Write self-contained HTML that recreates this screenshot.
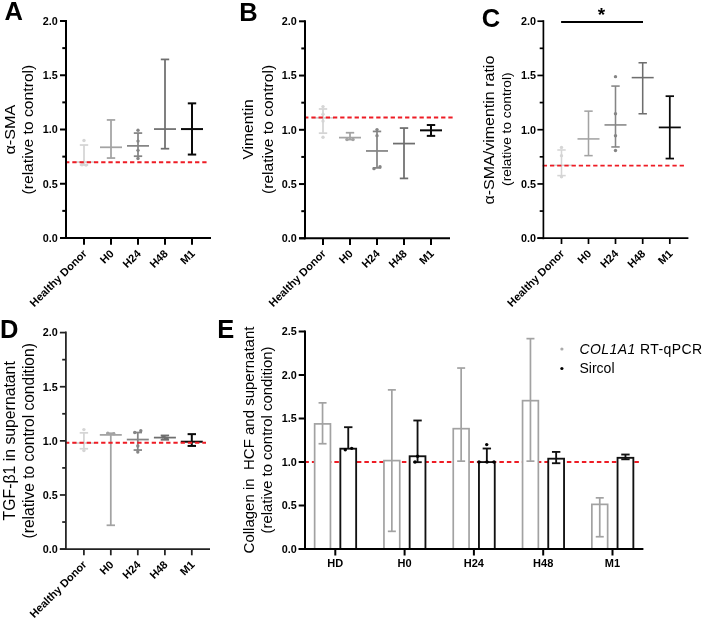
<!DOCTYPE html>
<html><head><meta charset="utf-8"><style>
html,body{margin:0;padding:0;background:#fff;}
svg{display:block;font-family:"Liberation Sans", sans-serif;will-change:transform;filter:blur(0.35px);}
</style></head><body>
<svg width="704" height="620" viewBox="0 0 704 620">
<rect width="704" height="620" fill="#fff"/>
<line x1="84.00" y1="145.02" x2="84.00" y2="164.98" stroke="#d5d5d5" stroke-width="1.75" />
<line x1="79.80" y1="145.02" x2="88.20" y2="145.02" stroke="#d5d5d5" stroke-width="1.75" />
<line x1="79.80" y1="164.98" x2="88.20" y2="164.98" stroke="#d5d5d5" stroke-width="1.75" />
<line x1="73.00" y1="162.05" x2="95.00" y2="162.05" stroke="#d5d5d5" stroke-width="1.75" />
<circle cx="84.00" cy="140.57" r="1.7" fill="#d5d5d5"/>
<circle cx="82.00" cy="164.76" r="1.7" fill="#d5d5d5"/>
<circle cx="86.00" cy="165.09" r="1.7" fill="#d5d5d5"/>
<line x1="111.00" y1="119.95" x2="111.00" y2="158.04" stroke="#a3a3a3" stroke-width="1.75" />
<line x1="106.80" y1="119.95" x2="115.20" y2="119.95" stroke="#a3a3a3" stroke-width="1.75" />
<line x1="106.80" y1="158.04" x2="115.20" y2="158.04" stroke="#a3a3a3" stroke-width="1.75" />
<line x1="100.00" y1="147.29" x2="122.00" y2="147.29" stroke="#a3a3a3" stroke-width="1.75" />
<line x1="138.00" y1="133.08" x2="138.00" y2="156.19" stroke="#858585" stroke-width="1.75" />
<line x1="133.80" y1="133.08" x2="142.20" y2="133.08" stroke="#858585" stroke-width="1.75" />
<line x1="133.80" y1="156.19" x2="142.20" y2="156.19" stroke="#858585" stroke-width="1.75" />
<line x1="127.00" y1="145.88" x2="149.00" y2="145.88" stroke="#858585" stroke-width="1.75" />
<circle cx="138.00" cy="130.26" r="1.7" fill="#858585"/>
<circle cx="138.00" cy="141.11" r="1.7" fill="#858585"/>
<circle cx="138.00" cy="150.33" r="1.7" fill="#858585"/>
<circle cx="138.00" cy="158.47" r="1.7" fill="#858585"/>
<line x1="165.00" y1="59.41" x2="165.00" y2="148.70" stroke="#6e6e6e" stroke-width="1.75" />
<line x1="160.80" y1="59.41" x2="169.20" y2="59.41" stroke="#6e6e6e" stroke-width="1.75" />
<line x1="160.80" y1="148.70" x2="169.20" y2="148.70" stroke="#6e6e6e" stroke-width="1.75" />
<line x1="154.00" y1="129.07" x2="176.00" y2="129.07" stroke="#6e6e6e" stroke-width="1.75" />
<line x1="192.00" y1="103.35" x2="192.00" y2="154.56" stroke="#0a0a0a" stroke-width="2.0" />
<line x1="187.80" y1="103.35" x2="196.20" y2="103.35" stroke="#0a0a0a" stroke-width="2.0" />
<line x1="187.80" y1="154.56" x2="196.20" y2="154.56" stroke="#0a0a0a" stroke-width="2.0" />
<line x1="181.00" y1="129.07" x2="203.00" y2="129.07" stroke="#0a0a0a" stroke-width="2.0" />
<line x1="65.08" y1="162.20" x2="206.60" y2="162.20" stroke="#ee1c25" stroke-width="2" stroke-dasharray="4.3 2.920"/>
<line x1="66.00" y1="20.00" x2="66.00" y2="239.00" stroke="#000" stroke-width="2" />
<line x1="60.00" y1="238.00" x2="211.00" y2="238.00" stroke="#000" stroke-width="2" />
<line x1="60.00" y1="238.00" x2="66.00" y2="238.00" stroke="#000" stroke-width="2" />
<text transform="translate(57.70,241.80) scale(1.03,1)" font-size="10.5" font-weight="bold" text-anchor="end" fill="#000" >0.0</text>
<line x1="60.00" y1="183.75" x2="66.00" y2="183.75" stroke="#000" stroke-width="2" />
<text transform="translate(57.70,187.55) scale(1.03,1)" font-size="10.5" font-weight="bold" text-anchor="end" fill="#000" >0.5</text>
<line x1="60.00" y1="129.50" x2="66.00" y2="129.50" stroke="#000" stroke-width="2" />
<text transform="translate(57.70,133.30) scale(1.03,1)" font-size="10.5" font-weight="bold" text-anchor="end" fill="#000" >1.0</text>
<line x1="60.00" y1="75.25" x2="66.00" y2="75.25" stroke="#000" stroke-width="2" />
<text transform="translate(57.70,79.05) scale(1.03,1)" font-size="10.5" font-weight="bold" text-anchor="end" fill="#000" >1.5</text>
<line x1="60.00" y1="21.00" x2="66.00" y2="21.00" stroke="#000" stroke-width="2" />
<text transform="translate(57.70,24.80) scale(1.03,1)" font-size="10.5" font-weight="bold" text-anchor="end" fill="#000" >2.0</text>
<line x1="62.30" y1="210.88" x2="66.00" y2="210.88" stroke="#000" stroke-width="2" />
<line x1="62.30" y1="156.62" x2="66.00" y2="156.62" stroke="#000" stroke-width="2" />
<line x1="62.30" y1="102.38" x2="66.00" y2="102.38" stroke="#000" stroke-width="2" />
<line x1="62.30" y1="48.12" x2="66.00" y2="48.12" stroke="#000" stroke-width="2" />
<line x1="84.00" y1="238.00" x2="84.00" y2="244.70" stroke="#000" stroke-width="2" />
<text transform="translate(87.50,254.30) scale(1.0,1) rotate(-45)" font-size="11" font-weight="bold" text-anchor="end" fill="#000" >Healthy Donor</text>
<line x1="111.00" y1="238.00" x2="111.00" y2="244.70" stroke="#000" stroke-width="2" />
<text transform="translate(114.50,254.30) scale(1.0,1) rotate(-45)" font-size="11" font-weight="bold" text-anchor="end" fill="#000" >H0</text>
<line x1="138.00" y1="238.00" x2="138.00" y2="244.70" stroke="#000" stroke-width="2" />
<text transform="translate(141.50,254.30) scale(1.0,1) rotate(-45)" font-size="11" font-weight="bold" text-anchor="end" fill="#000" >H24</text>
<line x1="165.00" y1="238.00" x2="165.00" y2="244.70" stroke="#000" stroke-width="2" />
<text transform="translate(168.50,254.30) scale(1.0,1) rotate(-45)" font-size="11" font-weight="bold" text-anchor="end" fill="#000" >H48</text>
<line x1="192.00" y1="238.00" x2="192.00" y2="244.70" stroke="#000" stroke-width="2" />
<text transform="translate(195.50,254.30) scale(1.0,1) rotate(-45)" font-size="11" font-weight="bold" text-anchor="end" fill="#000" >M1</text>
<text transform="translate(14.70,129.60) scale(0.94,1) rotate(-90)" font-size="16.2" font-weight="normal" text-anchor="middle" fill="#000" >α-SMA</text>
<text transform="translate(33.30,129.60) scale(0.94,1) rotate(-90)" font-size="15.7" font-weight="normal" text-anchor="middle" fill="#000" >(relative to control)</text>
<text transform="translate(4.60,19.80) scale(1.0,1)" font-size="25.5" font-weight="bold" text-anchor="start" fill="#000" >A</text>
<line x1="323.00" y1="108.97" x2="323.00" y2="133.16" stroke="#d5d5d5" stroke-width="1.75" />
<line x1="318.80" y1="108.97" x2="327.20" y2="108.97" stroke="#d5d5d5" stroke-width="1.75" />
<line x1="318.80" y1="133.16" x2="327.20" y2="133.16" stroke="#d5d5d5" stroke-width="1.75" />
<line x1="312.00" y1="117.86" x2="334.00" y2="117.86" stroke="#d5d5d5" stroke-width="1.75" />
<circle cx="323.00" cy="106.58" r="1.7" fill="#d5d5d5"/>
<circle cx="323.00" cy="114.28" r="1.7" fill="#d5d5d5"/>
<circle cx="323.00" cy="121.12" r="1.7" fill="#d5d5d5"/>
<circle cx="323.00" cy="137.29" r="1.7" fill="#d5d5d5"/>
<line x1="350.00" y1="132.73" x2="350.00" y2="139.56" stroke="#a3a3a3" stroke-width="1.75" />
<line x1="345.80" y1="132.73" x2="354.20" y2="132.73" stroke="#a3a3a3" stroke-width="1.75" />
<line x1="345.80" y1="139.56" x2="354.20" y2="139.56" stroke="#a3a3a3" stroke-width="1.75" />
<line x1="339.00" y1="137.61" x2="361.00" y2="137.61" stroke="#a3a3a3" stroke-width="1.75" />
<circle cx="347.00" cy="139.56" r="1.7" fill="#a3a3a3"/>
<circle cx="353.00" cy="139.56" r="1.7" fill="#a3a3a3"/>
<line x1="377.00" y1="131.43" x2="377.00" y2="167.88" stroke="#858585" stroke-width="1.75" />
<line x1="372.80" y1="131.43" x2="381.20" y2="131.43" stroke="#858585" stroke-width="1.75" />
<line x1="372.80" y1="167.88" x2="381.20" y2="167.88" stroke="#858585" stroke-width="1.75" />
<line x1="366.00" y1="150.96" x2="388.00" y2="150.96" stroke="#858585" stroke-width="1.75" />
<circle cx="377.00" cy="129.58" r="1.7" fill="#858585"/>
<circle cx="377.00" cy="135.66" r="1.7" fill="#858585"/>
<circle cx="374.00" cy="168.64" r="1.7" fill="#858585"/>
<circle cx="380.00" cy="166.69" r="1.7" fill="#858585"/>
<line x1="404.00" y1="128.06" x2="404.00" y2="178.41" stroke="#6e6e6e" stroke-width="1.75" />
<line x1="399.80" y1="128.06" x2="408.20" y2="128.06" stroke="#6e6e6e" stroke-width="1.75" />
<line x1="399.80" y1="178.41" x2="408.20" y2="178.41" stroke="#6e6e6e" stroke-width="1.75" />
<line x1="393.00" y1="143.58" x2="415.00" y2="143.58" stroke="#6e6e6e" stroke-width="1.75" />
<line x1="431.00" y1="125.03" x2="431.00" y2="135.88" stroke="#0a0a0a" stroke-width="2.0" />
<line x1="426.80" y1="125.03" x2="435.20" y2="125.03" stroke="#0a0a0a" stroke-width="2.0" />
<line x1="426.80" y1="135.88" x2="435.20" y2="135.88" stroke="#0a0a0a" stroke-width="2.0" />
<line x1="420.00" y1="130.34" x2="442.00" y2="130.34" stroke="#0a0a0a" stroke-width="2.0" />
<line x1="304.13" y1="117.40" x2="453.10" y2="117.40" stroke="#ee1c25" stroke-width="2" stroke-dasharray="4.3 2.910"/>
<line x1="305.00" y1="20.30" x2="305.00" y2="239.30" stroke="#000" stroke-width="2" />
<line x1="299.00" y1="238.30" x2="450.00" y2="238.30" stroke="#000" stroke-width="2" />
<line x1="299.00" y1="238.30" x2="305.00" y2="238.30" stroke="#000" stroke-width="2" />
<text transform="translate(296.80,242.10) scale(1.03,1)" font-size="10.5" font-weight="bold" text-anchor="end" fill="#000" >0.0</text>
<line x1="299.00" y1="184.05" x2="305.00" y2="184.05" stroke="#000" stroke-width="2" />
<text transform="translate(296.80,187.85) scale(1.03,1)" font-size="10.5" font-weight="bold" text-anchor="end" fill="#000" >0.5</text>
<line x1="299.00" y1="129.80" x2="305.00" y2="129.80" stroke="#000" stroke-width="2" />
<text transform="translate(296.80,133.60) scale(1.03,1)" font-size="10.5" font-weight="bold" text-anchor="end" fill="#000" >1.0</text>
<line x1="299.00" y1="75.55" x2="305.00" y2="75.55" stroke="#000" stroke-width="2" />
<text transform="translate(296.80,79.35) scale(1.03,1)" font-size="10.5" font-weight="bold" text-anchor="end" fill="#000" >1.5</text>
<line x1="299.00" y1="21.30" x2="305.00" y2="21.30" stroke="#000" stroke-width="2" />
<text transform="translate(296.80,25.10) scale(1.03,1)" font-size="10.5" font-weight="bold" text-anchor="end" fill="#000" >2.0</text>
<line x1="301.30" y1="211.18" x2="305.00" y2="211.18" stroke="#000" stroke-width="2" />
<line x1="301.30" y1="156.93" x2="305.00" y2="156.93" stroke="#000" stroke-width="2" />
<line x1="301.30" y1="102.68" x2="305.00" y2="102.68" stroke="#000" stroke-width="2" />
<line x1="301.30" y1="48.43" x2="305.00" y2="48.43" stroke="#000" stroke-width="2" />
<line x1="323.00" y1="238.30" x2="323.00" y2="245.00" stroke="#000" stroke-width="2" />
<text transform="translate(326.50,254.30) scale(1.0,1) rotate(-45)" font-size="11" font-weight="bold" text-anchor="end" fill="#000" >Healthy Donor</text>
<line x1="350.00" y1="238.30" x2="350.00" y2="245.00" stroke="#000" stroke-width="2" />
<text transform="translate(353.50,254.30) scale(1.0,1) rotate(-45)" font-size="11" font-weight="bold" text-anchor="end" fill="#000" >H0</text>
<line x1="377.00" y1="238.30" x2="377.00" y2="245.00" stroke="#000" stroke-width="2" />
<text transform="translate(380.50,254.30) scale(1.0,1) rotate(-45)" font-size="11" font-weight="bold" text-anchor="end" fill="#000" >H24</text>
<line x1="404.00" y1="238.30" x2="404.00" y2="245.00" stroke="#000" stroke-width="2" />
<text transform="translate(407.50,254.30) scale(1.0,1) rotate(-45)" font-size="11" font-weight="bold" text-anchor="end" fill="#000" >H48</text>
<line x1="431.00" y1="238.30" x2="431.00" y2="245.00" stroke="#000" stroke-width="2" />
<text transform="translate(434.50,254.30) scale(1.0,1) rotate(-45)" font-size="11" font-weight="bold" text-anchor="end" fill="#000" >M1</text>
<text transform="translate(253.40,129.40) scale(0.94,1) rotate(-90)" font-size="15.6" font-weight="normal" text-anchor="middle" fill="#000" >Vimentin</text>
<text transform="translate(272.70,129.40) scale(0.94,1) rotate(-90)" font-size="15.6" font-weight="normal" text-anchor="middle" fill="#000" >(relative to control)</text>
<text transform="translate(239.30,20.80) scale(1.0,1)" font-size="25.5" font-weight="bold" text-anchor="start" fill="#000" >B</text>
<line x1="561.50" y1="149.99" x2="561.50" y2="175.60" stroke="#d5d5d5" stroke-width="1.55" />
<line x1="557.30" y1="149.99" x2="565.70" y2="149.99" stroke="#d5d5d5" stroke-width="1.55" />
<line x1="557.30" y1="175.60" x2="565.70" y2="175.60" stroke="#d5d5d5" stroke-width="1.55" />
<line x1="550.50" y1="165.29" x2="572.50" y2="165.29" stroke="#d5d5d5" stroke-width="1.55" />
<circle cx="561.50" cy="147.39" r="1.7" fill="#d5d5d5"/>
<circle cx="561.50" cy="155.63" r="1.7" fill="#d5d5d5"/>
<circle cx="561.50" cy="176.68" r="1.7" fill="#d5d5d5"/>
<line x1="588.50" y1="111.15" x2="588.50" y2="155.63" stroke="#a3a3a3" stroke-width="1.55" />
<line x1="584.30" y1="111.15" x2="592.70" y2="111.15" stroke="#a3a3a3" stroke-width="1.55" />
<line x1="584.30" y1="155.63" x2="592.70" y2="155.63" stroke="#a3a3a3" stroke-width="1.55" />
<line x1="577.50" y1="138.92" x2="599.50" y2="138.92" stroke="#a3a3a3" stroke-width="1.55" />
<line x1="615.50" y1="86.08" x2="615.50" y2="146.95" stroke="#858585" stroke-width="1.55" />
<line x1="611.30" y1="86.08" x2="619.70" y2="86.08" stroke="#858585" stroke-width="1.55" />
<line x1="611.30" y1="146.95" x2="619.70" y2="146.95" stroke="#858585" stroke-width="1.55" />
<line x1="604.50" y1="124.93" x2="626.50" y2="124.93" stroke="#858585" stroke-width="1.55" />
<circle cx="615.50" cy="76.64" r="1.7" fill="#858585"/>
<circle cx="615.50" cy="113.75" r="1.7" fill="#858585"/>
<circle cx="615.50" cy="135.78" r="1.7" fill="#858585"/>
<circle cx="615.50" cy="150.53" r="1.7" fill="#858585"/>
<line x1="642.70" y1="62.76" x2="642.70" y2="113.75" stroke="#6e6e6e" stroke-width="1.55" />
<line x1="638.50" y1="62.76" x2="646.90" y2="62.76" stroke="#6e6e6e" stroke-width="1.55" />
<line x1="638.50" y1="113.75" x2="646.90" y2="113.75" stroke="#6e6e6e" stroke-width="1.55" />
<line x1="631.70" y1="77.62" x2="653.70" y2="77.62" stroke="#6e6e6e" stroke-width="1.55" />
<line x1="669.80" y1="96.17" x2="669.80" y2="158.56" stroke="#0a0a0a" stroke-width="1.75" />
<line x1="665.60" y1="96.17" x2="674.00" y2="96.17" stroke="#0a0a0a" stroke-width="1.75" />
<line x1="665.60" y1="158.56" x2="674.00" y2="158.56" stroke="#0a0a0a" stroke-width="1.75" />
<line x1="658.80" y1="127.42" x2="680.80" y2="127.42" stroke="#0a0a0a" stroke-width="1.75" />
<line x1="542.74" y1="165.60" x2="684.30" y2="165.60" stroke="#ee1c25" stroke-width="1.75" stroke-dasharray="4.3 2.905"/>
<line x1="543.40" y1="20.20" x2="543.40" y2="239.20" stroke="#000" stroke-width="1.7" />
<line x1="537.40" y1="238.20" x2="688.40" y2="238.20" stroke="#000" stroke-width="1.7" />
<line x1="537.40" y1="238.20" x2="543.40" y2="238.20" stroke="#000" stroke-width="1.7" />
<text transform="translate(536.10,242.00) scale(1.03,1)" font-size="10.5" font-weight="bold" text-anchor="end" fill="#000" >0.0</text>
<line x1="537.40" y1="183.95" x2="543.40" y2="183.95" stroke="#000" stroke-width="1.7" />
<text transform="translate(536.10,187.75) scale(1.03,1)" font-size="10.5" font-weight="bold" text-anchor="end" fill="#000" >0.5</text>
<line x1="537.40" y1="129.70" x2="543.40" y2="129.70" stroke="#000" stroke-width="1.7" />
<text transform="translate(536.10,133.50) scale(1.03,1)" font-size="10.5" font-weight="bold" text-anchor="end" fill="#000" >1.0</text>
<line x1="537.40" y1="75.45" x2="543.40" y2="75.45" stroke="#000" stroke-width="1.7" />
<text transform="translate(536.10,79.25) scale(1.03,1)" font-size="10.5" font-weight="bold" text-anchor="end" fill="#000" >1.5</text>
<line x1="537.40" y1="21.20" x2="543.40" y2="21.20" stroke="#000" stroke-width="1.7" />
<text transform="translate(536.10,25.00) scale(1.03,1)" font-size="10.5" font-weight="bold" text-anchor="end" fill="#000" >2.0</text>
<line x1="539.70" y1="211.07" x2="543.40" y2="211.07" stroke="#000" stroke-width="1.7" />
<line x1="539.70" y1="156.82" x2="543.40" y2="156.82" stroke="#000" stroke-width="1.7" />
<line x1="539.70" y1="102.57" x2="543.40" y2="102.57" stroke="#000" stroke-width="1.7" />
<line x1="539.70" y1="48.32" x2="543.40" y2="48.32" stroke="#000" stroke-width="1.7" />
<line x1="561.50" y1="238.20" x2="561.50" y2="244.00" stroke="#000" stroke-width="1.7" />
<text transform="translate(565.00,254.30) scale(1.0,1) rotate(-45)" font-size="11" font-weight="bold" text-anchor="end" fill="#000" >Healthy Donor</text>
<line x1="588.50" y1="238.20" x2="588.50" y2="244.00" stroke="#000" stroke-width="1.7" />
<text transform="translate(592.00,254.30) scale(1.0,1) rotate(-45)" font-size="11" font-weight="bold" text-anchor="end" fill="#000" >H0</text>
<line x1="615.50" y1="238.20" x2="615.50" y2="244.00" stroke="#000" stroke-width="1.7" />
<text transform="translate(619.00,254.30) scale(1.0,1) rotate(-45)" font-size="11" font-weight="bold" text-anchor="end" fill="#000" >H24</text>
<line x1="642.70" y1="238.20" x2="642.70" y2="244.00" stroke="#000" stroke-width="1.7" />
<text transform="translate(646.20,254.30) scale(1.0,1) rotate(-45)" font-size="11" font-weight="bold" text-anchor="end" fill="#000" >H48</text>
<line x1="669.80" y1="238.20" x2="669.80" y2="244.00" stroke="#000" stroke-width="1.7" />
<text transform="translate(673.30,254.30) scale(1.0,1) rotate(-45)" font-size="11" font-weight="bold" text-anchor="end" fill="#000" >M1</text>
<text transform="translate(494.40,130.10) scale(0.95,1) rotate(-90)" font-size="16" font-weight="normal" text-anchor="middle" fill="#000" >α-SMA/vimentin ratio</text>
<text transform="translate(511.00,129.20) scale(0.95,1) rotate(-90)" font-size="13.7" font-weight="normal" text-anchor="middle" fill="#000" >(relative to control)</text>
<text transform="translate(481.80,26.90) scale(1.0,1)" font-size="25.5" font-weight="bold" text-anchor="start" fill="#000" >C</text>
<line x1="561.10" y1="22.00" x2="643.00" y2="22.00" stroke="#000" stroke-width="2" />
<text transform="translate(601.40,20.60) scale(1.0,1)" font-size="19" font-weight="bold" text-anchor="middle" fill="#000" >*</text>
<line x1="83.90" y1="432.84" x2="83.90" y2="448.75" stroke="#d5d5d5" stroke-width="1.75" />
<line x1="79.70" y1="432.84" x2="88.10" y2="432.84" stroke="#d5d5d5" stroke-width="1.75" />
<line x1="79.70" y1="448.75" x2="88.10" y2="448.75" stroke="#d5d5d5" stroke-width="1.75" />
<line x1="72.90" y1="443.02" x2="94.90" y2="443.02" stroke="#d5d5d5" stroke-width="1.75" />
<circle cx="83.90" cy="429.59" r="1.7" fill="#d5d5d5"/>
<circle cx="83.90" cy="450.59" r="1.7" fill="#d5d5d5"/>
<line x1="110.80" y1="433.27" x2="110.80" y2="525.28" stroke="#a3a3a3" stroke-width="1.75" />
<line x1="106.60" y1="433.27" x2="115.00" y2="433.27" stroke="#a3a3a3" stroke-width="1.75" />
<line x1="106.60" y1="525.28" x2="115.00" y2="525.28" stroke="#a3a3a3" stroke-width="1.75" />
<line x1="99.80" y1="434.90" x2="121.80" y2="434.90" stroke="#a3a3a3" stroke-width="1.75" />
<circle cx="107.80" cy="433.27" r="1.7" fill="#a3a3a3"/>
<circle cx="113.80" cy="433.81" r="1.7" fill="#a3a3a3"/>
<line x1="137.80" y1="432.51" x2="137.80" y2="450.05" stroke="#858585" stroke-width="1.75" />
<line x1="133.60" y1="432.51" x2="142.00" y2="432.51" stroke="#858585" stroke-width="1.75" />
<line x1="133.60" y1="450.05" x2="142.00" y2="450.05" stroke="#858585" stroke-width="1.75" />
<line x1="126.80" y1="439.55" x2="148.80" y2="439.55" stroke="#858585" stroke-width="1.75" />
<circle cx="134.80" cy="432.51" r="1.7" fill="#858585"/>
<circle cx="140.80" cy="430.78" r="1.7" fill="#858585"/>
<circle cx="137.80" cy="445.94" r="1.7" fill="#858585"/>
<circle cx="137.80" cy="452.11" r="1.7" fill="#858585"/>
<line x1="164.90" y1="435.44" x2="164.90" y2="439.77" stroke="#6e6e6e" stroke-width="1.75" />
<line x1="160.70" y1="435.44" x2="169.10" y2="435.44" stroke="#6e6e6e" stroke-width="1.75" />
<line x1="160.70" y1="439.77" x2="169.10" y2="439.77" stroke="#6e6e6e" stroke-width="1.75" />
<line x1="153.90" y1="437.60" x2="175.90" y2="437.60" stroke="#6e6e6e" stroke-width="1.75" />
<circle cx="162.90" cy="437.06" r="1.7" fill="#6e6e6e"/>
<circle cx="166.90" cy="438.14" r="1.7" fill="#6e6e6e"/>
<line x1="191.80" y1="434.14" x2="191.80" y2="445.94" stroke="#0a0a0a" stroke-width="2.0" />
<line x1="187.60" y1="434.14" x2="196.00" y2="434.14" stroke="#0a0a0a" stroke-width="2.0" />
<line x1="187.60" y1="445.94" x2="196.00" y2="445.94" stroke="#0a0a0a" stroke-width="2.0" />
<line x1="180.80" y1="441.72" x2="202.80" y2="441.72" stroke="#0a0a0a" stroke-width="2.0" />
<line x1="65.02" y1="442.80" x2="206.00" y2="442.80" stroke="#ee1c25" stroke-width="2" stroke-dasharray="4.3 2.925"/>
<line x1="65.90" y1="331.60" x2="65.90" y2="550.10" stroke="#222" stroke-width="1.75" />
<line x1="59.90" y1="549.10" x2="210.00" y2="549.10" stroke="#222" stroke-width="1.75" />
<line x1="59.90" y1="549.10" x2="65.90" y2="549.10" stroke="#222" stroke-width="1.75" />
<text transform="translate(57.70,552.90) scale(1.03,1)" font-size="10.5" font-weight="bold" text-anchor="end" fill="#000" >0.0</text>
<line x1="59.90" y1="494.98" x2="65.90" y2="494.98" stroke="#222" stroke-width="1.75" />
<text transform="translate(57.70,498.78) scale(1.03,1)" font-size="10.5" font-weight="bold" text-anchor="end" fill="#000" >0.5</text>
<line x1="59.90" y1="440.85" x2="65.90" y2="440.85" stroke="#222" stroke-width="1.75" />
<text transform="translate(57.70,444.65) scale(1.03,1)" font-size="10.5" font-weight="bold" text-anchor="end" fill="#000" >1.0</text>
<line x1="59.90" y1="386.73" x2="65.90" y2="386.73" stroke="#222" stroke-width="1.75" />
<text transform="translate(57.70,390.53) scale(1.03,1)" font-size="10.5" font-weight="bold" text-anchor="end" fill="#000" >1.5</text>
<line x1="59.90" y1="332.60" x2="65.90" y2="332.60" stroke="#222" stroke-width="1.75" />
<text transform="translate(57.70,336.40) scale(1.03,1)" font-size="10.5" font-weight="bold" text-anchor="end" fill="#000" >2.0</text>
<line x1="62.20" y1="522.04" x2="65.90" y2="522.04" stroke="#222" stroke-width="1.75" />
<line x1="62.20" y1="467.91" x2="65.90" y2="467.91" stroke="#222" stroke-width="1.75" />
<line x1="62.20" y1="413.79" x2="65.90" y2="413.79" stroke="#222" stroke-width="1.75" />
<line x1="62.20" y1="359.66" x2="65.90" y2="359.66" stroke="#222" stroke-width="1.75" />
<line x1="83.90" y1="549.10" x2="83.90" y2="555.30" stroke="#222" stroke-width="1.75" />
<text transform="translate(87.40,565.30) scale(1.0,1) rotate(-45)" font-size="11" font-weight="bold" text-anchor="end" fill="#000" >Healthy Donor</text>
<line x1="110.80" y1="549.10" x2="110.80" y2="555.30" stroke="#222" stroke-width="1.75" />
<text transform="translate(114.30,565.30) scale(1.0,1) rotate(-45)" font-size="11" font-weight="bold" text-anchor="end" fill="#000" >H0</text>
<line x1="137.80" y1="549.10" x2="137.80" y2="555.30" stroke="#222" stroke-width="1.75" />
<text transform="translate(141.30,565.30) scale(1.0,1) rotate(-45)" font-size="11" font-weight="bold" text-anchor="end" fill="#000" >H24</text>
<line x1="164.90" y1="549.10" x2="164.90" y2="555.30" stroke="#222" stroke-width="1.75" />
<text transform="translate(168.40,565.30) scale(1.0,1) rotate(-45)" font-size="11" font-weight="bold" text-anchor="end" fill="#000" >H48</text>
<line x1="191.80" y1="549.10" x2="191.80" y2="555.30" stroke="#222" stroke-width="1.75" />
<text transform="translate(195.30,565.30) scale(1.0,1) rotate(-45)" font-size="11" font-weight="bold" text-anchor="end" fill="#000" >M1</text>
<text transform="translate(14.60,440.80) scale(1.04,1) rotate(-90)" font-size="15.8" font-weight="normal" text-anchor="middle" fill="#000" >TGF-β1 in supernatant</text>
<text transform="translate(33.50,440.80) scale(1.04,1) rotate(-90)" font-size="15.55" font-weight="normal" text-anchor="middle" fill="#000" >(relative to control condition)</text>
<text transform="translate(0.00,337.60) scale(1.0,1)" font-size="25.5" font-weight="bold" text-anchor="start" fill="#000" >D</text>
<line x1="304.36" y1="462.00" x2="639.20" y2="462.00" stroke="#ee1c25" stroke-width="2" stroke-dasharray="4.5 3.0"/>
<rect x="314.65" y="423.89" width="15.8" height="125.11" fill="#fff" stroke="#a2a2a2" stroke-width="1.7"/>
<line x1="322.55" y1="402.84" x2="322.55" y2="443.73" stroke="#a2a2a2" stroke-width="1.7" />
<line x1="318.55" y1="402.84" x2="326.55" y2="402.84" stroke="#a2a2a2" stroke-width="1.7" />
<line x1="318.55" y1="443.73" x2="326.55" y2="443.73" stroke="#a2a2a2" stroke-width="1.7" />
<rect x="383.95" y="460.61" width="15.8" height="88.39" fill="#fff" stroke="#a2a2a2" stroke-width="1.7"/>
<line x1="391.85" y1="389.88" x2="391.85" y2="531.34" stroke="#a2a2a2" stroke-width="1.7" />
<line x1="387.85" y1="389.88" x2="395.85" y2="389.88" stroke="#a2a2a2" stroke-width="1.7" />
<line x1="387.85" y1="531.34" x2="395.85" y2="531.34" stroke="#a2a2a2" stroke-width="1.7" />
<rect x="453.25" y="428.68" width="15.8" height="120.32" fill="#fff" stroke="#a2a2a2" stroke-width="1.7"/>
<line x1="461.15" y1="368.04" x2="461.15" y2="461.13" stroke="#a2a2a2" stroke-width="1.7" />
<line x1="457.15" y1="368.04" x2="465.15" y2="368.04" stroke="#a2a2a2" stroke-width="1.7" />
<line x1="457.15" y1="461.13" x2="465.15" y2="461.13" stroke="#a2a2a2" stroke-width="1.7" />
<rect x="522.55" y="400.66" width="15.8" height="148.34" fill="#fff" stroke="#a2a2a2" stroke-width="1.7"/>
<line x1="530.45" y1="338.63" x2="530.45" y2="461.13" stroke="#a2a2a2" stroke-width="1.7" />
<line x1="526.45" y1="338.63" x2="534.45" y2="338.63" stroke="#a2a2a2" stroke-width="1.7" />
<line x1="526.45" y1="461.13" x2="534.45" y2="461.13" stroke="#a2a2a2" stroke-width="1.7" />
<rect x="591.85" y="504.37" width="15.8" height="44.63" fill="#fff" stroke="#a2a2a2" stroke-width="1.7"/>
<line x1="599.75" y1="497.84" x2="599.75" y2="536.73" stroke="#a2a2a2" stroke-width="1.7" />
<line x1="595.75" y1="497.84" x2="603.75" y2="497.84" stroke="#a2a2a2" stroke-width="1.7" />
<line x1="595.75" y1="536.73" x2="603.75" y2="536.73" stroke="#a2a2a2" stroke-width="1.7" />
<rect x="340.35" y="448.69" width="15.8" height="100.31" fill="#fff" stroke="#111" stroke-width="1.85"/>
<line x1="348.25" y1="427.20" x2="348.25" y2="448.69" stroke="#111" stroke-width="1.85" />
<line x1="344.05" y1="427.20" x2="352.45" y2="427.20" stroke="#111" stroke-width="1.85" />
<rect x="409.65" y="456.26" width="15.8" height="92.74" fill="#fff" stroke="#111" stroke-width="1.85"/>
<line x1="417.55" y1="420.50" x2="417.55" y2="462.17" stroke="#111" stroke-width="1.85" />
<line x1="413.35" y1="420.50" x2="421.75" y2="420.50" stroke="#111" stroke-width="1.85" />
<line x1="413.35" y1="462.17" x2="421.75" y2="462.17" stroke="#111" stroke-width="1.85" />
<rect x="478.95" y="462.09" width="15.8" height="86.91" fill="#fff" stroke="#111" stroke-width="1.85"/>
<line x1="486.85" y1="448.51" x2="486.85" y2="462.09" stroke="#111" stroke-width="1.85" />
<line x1="482.65" y1="448.51" x2="491.05" y2="448.51" stroke="#111" stroke-width="1.85" />
<rect x="548.25" y="458.69" width="15.8" height="90.31" fill="#fff" stroke="#111" stroke-width="1.85"/>
<line x1="556.15" y1="451.91" x2="556.15" y2="463.22" stroke="#111" stroke-width="1.85" />
<line x1="551.95" y1="451.91" x2="560.35" y2="451.91" stroke="#111" stroke-width="1.85" />
<line x1="551.95" y1="463.22" x2="560.35" y2="463.22" stroke="#111" stroke-width="1.85" />
<rect x="617.55" y="457.82" width="15.8" height="91.18" fill="#fff" stroke="#111" stroke-width="1.85"/>
<line x1="625.45" y1="454.52" x2="625.45" y2="459.30" stroke="#111" stroke-width="1.85" />
<line x1="621.25" y1="454.52" x2="629.65" y2="454.52" stroke="#111" stroke-width="1.85" />
<line x1="621.25" y1="459.30" x2="629.65" y2="459.30" stroke="#111" stroke-width="1.85" />
<circle cx="345.30" cy="449.73" r="1.7" fill="#000"/>
<circle cx="351.70" cy="448.34" r="1.7" fill="#000"/>
<circle cx="479.00" cy="462.00" r="1.7" fill="#000"/>
<circle cx="487.00" cy="462.00" r="1.7" fill="#000"/>
<circle cx="494.00" cy="462.00" r="1.7" fill="#000"/>
<circle cx="486.70" cy="444.60" r="1.7" fill="#000"/>
<circle cx="415.00" cy="462.00" r="1.7" fill="#000"/>
<circle cx="417.60" cy="456.26" r="1.7" fill="#000"/>
<line x1="305.00" y1="330.50" x2="305.00" y2="550.00" stroke="#000" stroke-width="2" />
<line x1="298.70" y1="549.00" x2="643.40" y2="549.00" stroke="#000" stroke-width="2" />
<line x1="298.70" y1="549.00" x2="305.00" y2="549.00" stroke="#000" stroke-width="2" />
<text transform="translate(296.80,552.80) scale(1.03,1)" font-size="10.5" font-weight="bold" text-anchor="end" fill="#000" >0.0</text>
<line x1="298.70" y1="505.50" x2="305.00" y2="505.50" stroke="#000" stroke-width="2" />
<text transform="translate(296.80,509.30) scale(1.03,1)" font-size="10.5" font-weight="bold" text-anchor="end" fill="#000" >0.5</text>
<line x1="298.70" y1="462.00" x2="305.00" y2="462.00" stroke="#000" stroke-width="2" />
<text transform="translate(296.80,465.80) scale(1.03,1)" font-size="10.5" font-weight="bold" text-anchor="end" fill="#000" >1.0</text>
<line x1="298.70" y1="418.50" x2="305.00" y2="418.50" stroke="#000" stroke-width="2" />
<text transform="translate(296.80,422.30) scale(1.03,1)" font-size="10.5" font-weight="bold" text-anchor="end" fill="#000" >1.5</text>
<line x1="298.70" y1="375.00" x2="305.00" y2="375.00" stroke="#000" stroke-width="2" />
<text transform="translate(296.80,378.80) scale(1.03,1)" font-size="10.5" font-weight="bold" text-anchor="end" fill="#000" >2.0</text>
<line x1="298.70" y1="331.50" x2="305.00" y2="331.50" stroke="#000" stroke-width="2" />
<text transform="translate(296.80,335.30) scale(1.03,1)" font-size="10.5" font-weight="bold" text-anchor="end" fill="#000" >2.5</text>
<line x1="335.30" y1="549.00" x2="335.30" y2="555.50" stroke="#000" stroke-width="2" />
<text transform="translate(335.30,567.00) scale(1.0,1)" font-size="11" font-weight="bold" text-anchor="middle" fill="#000" >HD</text>
<line x1="404.60" y1="549.00" x2="404.60" y2="555.50" stroke="#000" stroke-width="2" />
<text transform="translate(404.60,567.00) scale(1.0,1)" font-size="11" font-weight="bold" text-anchor="middle" fill="#000" >H0</text>
<line x1="473.90" y1="549.00" x2="473.90" y2="555.50" stroke="#000" stroke-width="2" />
<text transform="translate(473.90,567.00) scale(1.0,1)" font-size="11" font-weight="bold" text-anchor="middle" fill="#000" >H24</text>
<line x1="543.20" y1="549.00" x2="543.20" y2="555.50" stroke="#000" stroke-width="2" />
<text transform="translate(543.20,567.00) scale(1.0,1)" font-size="11" font-weight="bold" text-anchor="middle" fill="#000" >H48</text>
<line x1="612.50" y1="549.00" x2="612.50" y2="555.50" stroke="#000" stroke-width="2" />
<text transform="translate(612.50,567.00) scale(1.0,1)" font-size="11" font-weight="bold" text-anchor="middle" fill="#000" >M1</text>
<text transform="translate(253.60,440.00) scale(1.0,1) rotate(-90)" font-size="15" font-weight="normal" text-anchor="middle" fill="#000" >Collagen in&#160; HCF and supernatant</text>
<text transform="translate(272.20,440.00) scale(1.0,1) rotate(-90)" font-size="14.9" font-weight="normal" text-anchor="middle" fill="#000" >(relative to control condition)</text>
<text transform="translate(217.30,337.70) scale(1.0,1)" font-size="25.5" font-weight="bold" text-anchor="start" fill="#000" >E</text>
<circle cx="561.90" cy="349.00" r="1.6" fill="#aaa"/>
<circle cx="561.90" cy="368.50" r="1.6" fill="#000"/>
<text x="579.5" y="353.8" font-size="14" letter-spacing="0.42" fill="#000"><tspan font-style="italic">COL1A1</tspan> RT-qPCR</text>
<text x="579.5" y="373.2" font-size="14" fill="#000">Sircol</text>
</svg>
</body></html>
